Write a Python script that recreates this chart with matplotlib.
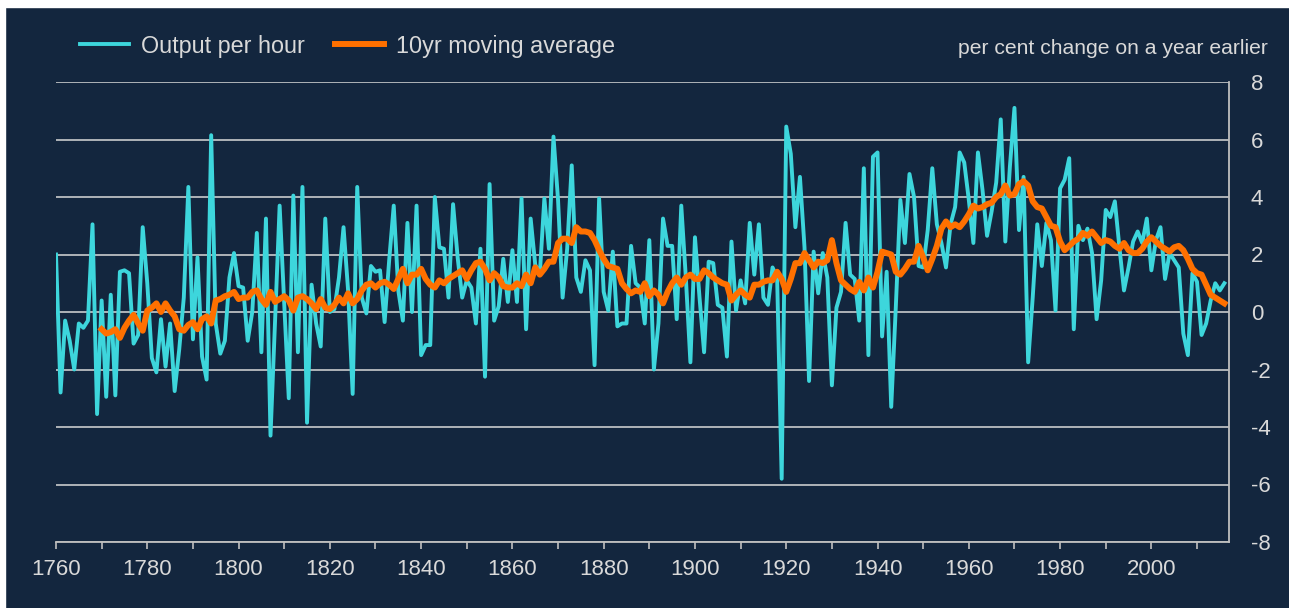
import numpy as np
import matplotlib
matplotlib.use('Agg')
import matplotlib.pyplot as plt
from matplotlib.patches import Rectangle

plt.rcParams['font.family'] = ['Liberation Sans', 'DejaVu Sans']
plt.rcParams['axes.unicode_minus'] = False

# annual growth in output per hour, 1760-2016
years = np.arange(1760, 2017)
output_per_hour = [
    2.0, -2.8, -0.3, -1.0, -2.0, -0.4, -0.55, -0.3, 3.05, -3.55,      # 1760s
    0.4, -2.95, 0.6, -2.9, 1.4, 1.45, 1.35, -1.1, -0.8, 2.95,         # 1770s
    1.0, -1.6, -2.1, -0.25, -1.9, -0.4, -2.75, -1.3, 0.5, 4.35,       # 1780s
    -0.95, 1.9, -1.55, -2.35, 6.15, -0.4, -1.45, -1.0, 1.2, 2.05,     # 1790s
    0.9, 0.85, -1.0, 0.0, 2.75, -1.4, 3.25, -4.3, -0.3, 3.7,          # 1800s
    0.3, -3.0, 4.05, -1.4, 4.35, -3.85, 0.95, -0.4, -1.2, 3.25,       # 1810s
    0.0, 0.1, 1.2, 2.95, 0.75, -2.85, 4.35, 0.5, -0.05, 1.6,          # 1820s
    1.4, 1.45, -0.35, 1.8, 3.7, 0.75, -0.3, 3.1, 0.0, 3.7,            # 1830s
    -1.5, -1.15, -1.15, 4.0, 2.25, 2.2, 0.5, 3.75, 1.9, 0.5,          # 1840s
    1.1, 0.85, -0.4, 2.2, -2.25, 4.45, -0.3, 0.2, 1.85, 0.35,         # 1850s
    2.15, 0.35, 3.95, -0.6, 3.25, 1.65, 1.3, 3.95, 2.2, 6.1,          # 1860s
    3.9, 0.5, 2.2, 5.1, 1.2, 0.7, 1.8, 1.45, -1.85, 3.95,             # 1870s
    0.7, 0.05, 2.1, -0.5, -0.4, -0.4, 2.3, 1.0, 0.85, -0.4,           # 1880s
    2.5, -2.0, -0.4, 3.25, 2.3, 2.3, -0.25, 3.7, 1.2, -1.75,          # 1890s
    2.6, 0.5, -1.4, 1.75, 1.7, 0.25, 0.15, -1.55, 2.45, 0.05,         # 1900s
    1.1, 0.3, 3.1, 1.3, 3.05, 0.5, 0.25, 1.55, 1.2, -5.8,             # 1910s
    6.45, 5.5, 2.95, 4.7, 2.25, -2.4, 2.1, 0.65, 2.05, 1.2,           # 1920s
    -2.55, 0.15, 0.7, 3.1, 1.3, 1.15, -0.3, 5.0, -1.5, 5.4,           # 1930s
    5.55, -0.85, 1.4, -3.3, 0.15, 3.9, 2.4, 4.8, 4.0, 1.6,            # 1940s
    1.55, 2.85, 5.0, 3.05, 2.4, 1.55, 3.05, 3.65, 5.55, 5.2,          # 1950s
    3.9, 2.4, 5.55, 4.25, 2.65, 3.5, 4.5, 6.7, 2.45, 5.05,            # 1960s
    7.1, 2.85, 4.7, -1.75, 0.5, 3.05, 1.6, 3.1, 2.5, 0.05,            # 1970s
    4.3, 4.6, 5.35, -0.6, 3.0, 2.5, 2.9, 2.05, -0.25, 1.1,            # 1980s
    3.55, 3.3, 3.85, 2.25, 0.75, 1.55, 2.45, 2.8, 2.4, 3.25,          # 1990s
    1.45, 2.5, 2.95, 1.15, 2.05, 1.8, 1.55, -0.75, -1.5, 1.35,        # 2000s
    1.05, -0.8, -0.4, 0.4, 1.0, 0.75, 1.0,                            # 2010s
]

# 10yr moving average, 1770-2016
ma_years = np.arange(1770, 2017)
moving_avg = [
    -0.6, -0.75, -0.7, -0.6, -0.9, -0.55, -0.3, -0.1, -0.4, -0.65,    # 1770s
    0.05, 0.15, 0.3, 0.0, 0.3, 0.05, -0.15, -0.6, -0.65, -0.45,       # 1780s
    -0.35, -0.6, -0.25, -0.15, -0.4, 0.4, 0.45, 0.55, 0.6, 0.7,       # 1790s
    0.45, 0.5, 0.5, 0.7, 0.75, 0.45, 0.25, 0.7, 0.35, 0.45,           # 1800s
    0.55, 0.4, 0.05, 0.5, 0.55, 0.45, 0.3, 0.1, 0.45, 0.15,           # 1810s
    0.1, 0.25, 0.5, 0.3, 0.65, 0.3, 0.45, 0.75, 0.95, 1.0,            # 1820s
    0.85, 1.0, 1.05, 0.95, 0.8, 1.15, 1.5, 1.0, 1.3, 1.3,             # 1830s
    1.5, 1.15, 0.95, 0.85, 1.1, 1.0, 1.15, 1.25, 1.35, 1.45,          # 1840s
    1.15, 1.45, 1.7, 1.75, 1.5, 1.1, 1.35, 1.2, 0.9, 0.85,            # 1850s
    0.85, 1.0, 0.9, 1.3, 1.0, 1.55, 1.3, 1.5, 1.75, 1.75,             # 1860s
    2.4, 2.55, 2.55, 2.4, 2.95, 2.8, 2.8, 2.75, 2.5, 2.15,            # 1870s
    1.85, 1.6, 1.55, 1.5, 1.0, 0.8, 0.65, 0.75, 0.7, 1.0,             # 1880s
    0.55, 0.75, 0.6, 0.3, 0.7, 1.0, 1.2, 0.95, 1.2, 1.3,              # 1890s
    1.15, 1.15, 1.45, 1.35, 1.2, 1.1, 1.0, 0.95, 0.4, 0.6,            # 1900s
    0.75, 0.6, 0.5, 0.95, 0.95, 1.05, 1.1, 1.1, 1.4, 1.15,            # 1910s
    0.7, 1.15, 1.7, 1.7, 2.05, 1.8, 1.55, 1.75, 1.7, 1.8,             # 1920s
    2.5, 1.7, 1.1, 0.95, 0.8, 0.7, 1.05, 0.75, 1.2, 0.85,             # 1930s
    1.4, 2.1, 2.05, 2.0, 1.4, 1.3, 1.5, 1.75, 1.75, 2.3,              # 1940s
    1.9, 1.45, 1.85, 2.3, 2.9, 3.15, 2.95, 3.05, 2.95, 3.15,          # 1950s
    3.4, 3.7, 3.6, 3.65, 3.75, 3.8, 4.0, 4.1, 4.4, 4.05,              # 1960s
    4.1, 4.45, 4.55, 4.4, 3.85, 3.65, 3.6, 3.3, 3.0, 2.95,            # 1970s
    2.45, 2.15, 2.3, 2.45, 2.55, 2.75, 2.65, 2.8, 2.6, 2.4,           # 1980s
    2.5, 2.45, 2.3, 2.2, 2.4, 2.15, 2.05, 2.05, 2.2, 2.45,            # 1990s
    2.6, 2.45, 2.3, 2.2, 2.1, 2.25, 2.3, 2.15, 1.85, 1.5,             # 2000s
    1.35, 1.3, 0.95, 0.6, 0.5, 0.4, 0.3,                              # 2010s
]

y_ticks = [-8, -6, -4, -2, 0, 2, 4, 6, 8]
x_labels = [1760, 1780, 1800, 1820, 1840, 1860, 1880, 1900, 1920, 1940, 1960, 1980, 2000]
x_minor = np.arange(1760, 2011, 10)

bg = '#13263e'
txt = '#d9d9d9'
W, H = 1289, 608

fig = plt.figure(figsize=(W / 100, H / 100), dpi=100, facecolor=bg)
# thin white frame at top and left like the source image
fig.patches.append(Rectangle((0, 1 - 7 / H), 1, 7 / H, transform=fig.transFigure, color='white'))
fig.patches.append(Rectangle((0, 0), 5 / W, 1, transform=fig.transFigure, color='white'))

ax = fig.add_axes([56 / W, 1 - 542 / H, (1228.5 - 56) / W, (542 - 82) / H])
ax.set_facecolor(bg)
ax.set_axisbelow(True)

ax.plot(years, output_per_hour, color='#3dd6dc', lw=2.8, label='Output per hour')
ax.plot(ma_years, moving_avg, color='#ff7000', lw=4.3, label='10yr moving average')

ax.set_xlim(1760, 2016.9)
ax.set_ylim(-8, 8)

ax.set_yticks(y_ticks)
ax.yaxis.tick_right()
ax.tick_params(axis='y', length=0, pad=16, labelsize=16, labelcolor=txt)

ax.set_xticks(x_labels)
ax.set_xticks(x_minor, minor=True)
ax.tick_params(axis='x', which='both', length=5, width=1.2, color='#bfbfbf',
               direction='out', labelsize=16, labelcolor=txt, pad=7)

ax.grid(axis='y', color='#d9d9d9', lw=1.1)
for side in ['top', 'left']:
    ax.spines[side].set_visible(False)
for side in ['bottom', 'right']:
    ax.spines[side].set_color('#bfbfbf')
    ax.spines[side].set_linewidth(1.3)

ax.legend(loc='center left', bbox_to_anchor=(80 / W, 1 - 46 / H), bbox_transform=fig.transFigure,
          ncol=2, frameon=False, fontsize=16.8, labelcolor=txt, handlelength=2.1,
          handletextpad=0.5, columnspacing=1.3, borderpad=0, borderaxespad=0)

fig.text(1268 / W, 1 - 49 / H, 'per cent change on a year earlier', ha='right', va='center',
         fontsize=15.2, color=txt)

fig.savefig('out.png', dpi=100, facecolor=fig.get_facecolor())
